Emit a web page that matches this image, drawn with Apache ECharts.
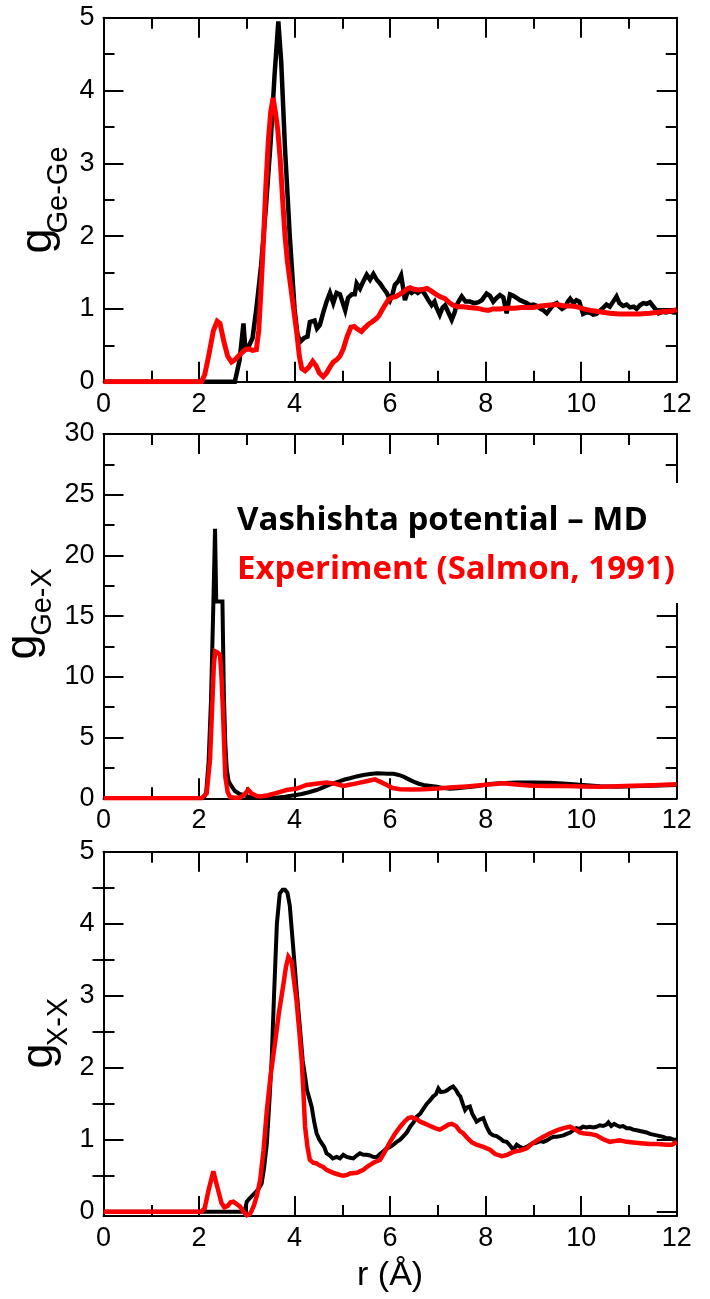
<!DOCTYPE html>
<html>
<head>
<meta charset="utf-8">
<script src="https://cdn.jsdelivr.net/npm/echarts@6/dist/echarts.min.js"></script>
<style>
  html, body { margin: 0; padding: 0; background: #fff; }
  #chart { width: 710px; height: 1299px; }
</style>
</head>
<body>
<div id="chart"></div>
<script>
// Radial distribution functions of GeX2: simulation (MD, Vashishta potential) vs experiment
// Each series is a list of [r (Å), g(r)] points.

const rTicks = [0, 2, 4, 6, 8, 10, 12];
const geGeTicks = [0, 1, 2, 3, 4, 5];
const geXTicks = [0, 5, 10, 15, 20, 25, 30];
const xxTicks = [0, 1, 2, 3, 4, 5];
const xxMinorTicks = [0.5, 1.5, 2.5, 3.5, 4.5];

const geGeMD = [[0,0],[2.75,0],[2.85,0.3],[2.93,0.8],[2.97,0.45],[3.05,0.5],[3.12,0.6],[3.2,1.0],[3.3,1.6],[3.4,2.4],[3.5,3.3],[3.58,4.2],[3.66,4.95],[3.72,4.4],[3.8,3.2],[3.9,2.0],[4.0,1.0],[4.06,0.65],[4.12,0.55],[4.2,0.6],[4.27,0.62],[4.32,0.82],[4.42,0.84],[4.47,0.73],[4.53,0.78],[4.6,0.95],[4.67,1.1],[4.74,1.22],[4.81,1.08],[4.88,1.22],[4.95,1.2],[5.0,1.1],[5.06,0.98],[5.12,1.15],[5.2,1.2],[5.26,1.2],[5.3,1.35],[5.37,1.28],[5.44,1.38],[5.51,1.47],[5.58,1.4],[5.65,1.48],[5.72,1.4],[5.79,1.35],[5.86,1.28],[5.93,1.22],[6.0,1.12],[6.05,1.2],[6.1,1.33],[6.17,1.38],[6.23,1.46],[6.27,1.3],[6.31,1.12],[6.38,1.26],[6.45,1.22],[6.52,1.25],[6.58,1.22],[6.66,1.26],[6.73,1.2],[6.8,1.12],[6.87,1.05],[6.93,1.1],[6.97,1.02],[7.04,0.92],[7.1,1.02],[7.15,1.05],[7.22,0.95],[7.29,0.85],[7.35,0.95],[7.39,1.05],[7.45,1.12],[7.5,1.17],[7.58,1.1],[7.67,1.1],[7.76,1.08],[7.84,1.09],[7.92,1.12],[8.02,1.21],[8.09,1.18],[8.16,1.1],[8.23,1.15],[8.3,1.19],[8.37,1.16],[8.44,0.94],[8.51,1.2],[8.58,1.18],[8.65,1.15],[8.72,1.12],[8.79,1.1],[8.86,1.08],[8.93,1.05],[9.0,1.06],[9.08,1.04],[9.15,1.0],[9.21,0.98],[9.28,0.94],[9.35,1.0],[9.42,1.06],[9.49,1.08],[9.53,1.04],[9.6,1.0],[9.67,1.03],[9.72,1.1],[9.77,1.14],[9.84,1.08],[9.9,1.12],[9.96,1.1],[10.04,0.93],[10.11,0.95],[10.18,0.95],[10.25,0.92],[10.32,0.93],[10.4,0.98],[10.47,1.02],[10.53,1.06],[10.6,1.03],[10.67,1.1],[10.74,1.17],[10.8,1.08],[10.88,1.04],[10.95,1.06],[11.02,1.02],[11.1,1.03],[11.16,1.0],[11.23,1.05],[11.3,1.08],[11.37,1.07],[11.44,1.09],[11.48,1.1],[11.55,1.0],[11.62,0.94],[11.7,0.96],[11.78,0.95],[11.86,0.97],[11.93,0.95],[12.0,0.95]];

const geGeExp = [[0,0],[2.05,0],[2.12,0.1],[2.2,0.35],[2.3,0.7],[2.38,0.83],[2.44,0.8],[2.52,0.55],[2.6,0.35],[2.68,0.27],[2.75,0.3],[2.82,0.35],[2.9,0.4],[2.97,0.44],[3.05,0.45],[3.12,0.43],[3.2,0.44],[3.25,0.7],[3.3,1.3],[3.35,1.95],[3.4,2.7],[3.45,3.3],[3.5,3.7],[3.55,3.9],[3.6,3.7],[3.65,3.45],[3.7,3.05],[3.75,2.5],[3.8,2.0],[3.85,1.65],[3.9,1.4],[3.95,1.15],[4.0,0.9],[4.05,0.65],[4.1,0.35],[4.15,0.18],[4.22,0.15],[4.3,0.2],[4.38,0.28],[4.45,0.22],[4.52,0.12],[4.6,0.07],[4.67,0.12],[4.74,0.2],[4.81,0.27],[4.88,0.3],[4.95,0.35],[5.02,0.45],[5.1,0.62],[5.18,0.75],[5.25,0.76],[5.32,0.72],[5.4,0.69],[5.47,0.74],[5.55,0.79],[5.62,0.82],[5.7,0.86],[5.76,0.9],[5.83,0.98],[5.9,1.06],[5.97,1.13],[6.05,1.16],[6.12,1.17],[6.2,1.2],[6.27,1.23],[6.35,1.27],[6.42,1.29],[6.5,1.27],[6.6,1.26],[6.7,1.27],[6.77,1.28],[6.85,1.25],[6.94,1.21],[7.04,1.17],[7.15,1.14],[7.25,1.08],[7.32,1.05],[7.42,1.03],[7.53,1.03],[7.65,1.02],[7.81,1.01],[7.95,0.99],[8.05,0.98],[8.15,1.0],[8.3,1.0],[8.44,1.01],[8.6,1.01],[8.75,1.02],[8.9,1.02],[9.0,1.02],[9.15,1.04],[9.3,1.05],[9.49,1.06],[9.65,1.04],[9.8,1.04],[9.9,1.03],[10.05,1.0],[10.2,0.98],[10.39,0.96],[10.6,0.94],[10.8,0.93],[10.95,0.93],[11.2,0.93],[11.44,0.94],[11.7,0.96],[11.9,0.97],[12.0,0.99]];

const geXMD = [[0,0],[2.1,0],[2.15,0.5],[2.2,3.0],[2.25,8.0],[2.3,16.0],[2.335,22.2],[2.36,16.2],[2.49,16.2],[2.52,8.5],[2.55,4.5],[2.58,2.4],[2.62,1.4],[2.68,1.0],[2.75,0.6],[2.85,0.35],[2.95,0.25],[3.05,0.12],[3.2,0.06],[3.4,0.03],[3.6,0.05],[3.8,0.12],[4.0,0.25],[4.15,0.35],[4.3,0.5],[4.46,0.68],[4.6,0.9],[4.72,1.1],[4.81,1.23],[4.95,1.42],[5.05,1.55],[5.16,1.65],[5.3,1.8],[5.44,1.92],[5.58,2.0],[5.72,2.06],[5.85,2.04],[5.95,2.02],[6.07,2.02],[6.18,1.92],[6.28,1.78],[6.38,1.58],[6.49,1.37],[6.6,1.2],[6.7,1.1],[6.85,1.02],[6.98,0.96],[7.1,0.86],[7.25,0.78],[7.4,0.82],[7.6,0.9],[7.8,1.0],[8.09,1.17],[8.3,1.25],[8.65,1.31],[9.0,1.31],[9.35,1.29],[9.7,1.2],[10.04,1.1],[10.4,1.0],[10.74,0.96],[11.1,1.0],[11.44,1.04],[11.8,1.08],[12.0,1.1]];

const geXExp = [[0,0],[2.05,0],[2.16,0.4],[2.23,3.2],[2.28,8.0],[2.31,11.0],[2.34,12.1],[2.39,12.0],[2.44,11.8],[2.47,10.0],[2.5,7.3],[2.55,1.8],[2.6,0.5],[2.65,0.1],[2.75,0.05],[2.85,0.05],[2.95,0.3],[3.03,0.7],[3.1,0.4],[3.2,0.2],[3.28,0.15],[3.45,0.25],[3.63,0.45],[3.83,0.68],[4.05,0.8],[4.25,1.1],[4.45,1.2],[4.67,1.29],[4.85,1.2],[5.02,1.02],[5.2,1.15],[5.37,1.29],[5.55,1.45],[5.68,1.56],[5.8,1.35],[5.93,1.1],[6.05,0.85],[6.21,0.74],[6.45,0.72],[6.7,0.74],[7.0,0.8],[7.25,0.88],[7.6,0.98],[7.95,1.1],[8.37,1.23],[8.7,1.12],[8.99,1.04],[9.35,1.02],[9.69,1.01],[10.05,0.98],[10.39,0.96],[10.75,1.0],[11.09,1.04],[11.5,1.08],[12.0,1.15]];

const xxMD = [[0,0],[2.9,0],[2.96,0.02],[3.0,0.14],[3.08,0.2],[3.17,0.26],[3.25,0.32],[3.31,0.39],[3.36,0.6],[3.42,0.95],[3.47,1.5],[3.52,2.1],[3.57,3.0],[3.63,4.0],[3.69,4.42],[3.75,4.47],[3.8,4.47],[3.85,4.43],[3.9,4.25],[3.97,3.68],[4.04,3.1],[4.11,2.57],[4.17,2.1],[4.22,1.88],[4.26,1.69],[4.32,1.55],[4.36,1.45],[4.41,1.25],[4.46,1.09],[4.52,1.0],[4.57,0.95],[4.62,0.9],[4.67,0.81],[4.74,0.78],[4.8,0.74],[4.88,0.76],[4.95,0.74],[5.02,0.79],[5.09,0.76],[5.16,0.75],[5.23,0.74],[5.3,0.78],[5.37,0.81],[5.44,0.79],[5.51,0.79],[5.58,0.78],[5.65,0.76],[5.72,0.76],[5.79,0.8],[5.86,0.84],[5.93,0.88],[6.0,0.9],[6.07,0.93],[6.14,0.97],[6.21,1.0],[6.28,1.05],[6.35,1.1],[6.42,1.18],[6.49,1.24],[6.56,1.32],[6.63,1.36],[6.7,1.43],[6.77,1.5],[6.84,1.55],[6.9,1.6],[6.96,1.63],[7.01,1.71],[7.06,1.66],[7.1,1.65],[7.15,1.67],[7.2,1.69],[7.26,1.72],[7.32,1.74],[7.38,1.69],[7.43,1.63],[7.47,1.6],[7.52,1.5],[7.57,1.41],[7.62,1.45],[7.67,1.46],[7.72,1.36],[7.77,1.3],[7.81,1.25],[7.88,1.28],[7.95,1.3],[8.02,1.18],[8.09,1.09],[8.16,1.06],[8.23,1.05],[8.3,1.02],[8.37,0.98],[8.44,0.97],[8.51,0.92],[8.58,0.86],[8.65,0.93],[8.72,0.9],[8.79,0.88],[8.86,0.9],[8.93,0.93],[9.0,0.95],[9.07,0.96],[9.14,0.98],[9.21,0.97],[9.28,0.99],[9.35,1.02],[9.42,1.04],[9.49,1.04],[9.56,1.05],[9.63,1.06],[9.7,1.08],[9.77,1.1],[9.83,1.13],[9.9,1.16],[9.97,1.15],[10.04,1.18],[10.11,1.17],[10.18,1.18],[10.25,1.17],[10.32,1.18],[10.39,1.2],[10.46,1.19],[10.53,1.21],[10.57,1.24],[10.63,1.19],[10.69,1.22],[10.74,1.2],[10.81,1.18],[10.88,1.19],[10.95,1.16],[11.02,1.16],[11.09,1.14],[11.16,1.13],[11.23,1.12],[11.3,1.11],[11.37,1.1],[11.44,1.08],[11.51,1.07],[11.58,1.06],[11.65,1.05],[11.72,1.04],[11.79,1.02],[11.86,1.02],[11.93,1.0],[12.0,1.0]];

const xxExp = [[0,0],[2.05,0],[2.12,0.05],[2.2,0.3],[2.3,0.56],[2.38,0.35],[2.47,0.12],[2.53,0.06],[2.6,0.08],[2.66,0.13],[2.72,0.14],[2.8,0.1],[2.86,0.07],[2.93,0.0],[3.0,-0.05],[3.07,-0.03],[3.14,0.07],[3.21,0.22],[3.28,0.44],[3.35,0.85],[3.42,1.41],[3.5,1.9],[3.59,2.34],[3.67,2.75],[3.76,3.13],[3.82,3.4],[3.87,3.54],[3.94,3.47],[3.99,3.2],[4.04,2.94],[4.1,2.5],[4.15,2.1],[4.19,1.6],[4.22,1.18],[4.27,0.9],[4.32,0.72],[4.39,0.68],[4.46,0.67],[4.53,0.64],[4.6,0.62],[4.67,0.58],[4.74,0.56],[4.85,0.53],[4.95,0.51],[5.02,0.5],[5.1,0.51],[5.16,0.53],[5.3,0.54],[5.37,0.56],[5.44,0.58],[5.51,0.62],[5.58,0.65],[5.68,0.69],[5.79,0.72],[5.86,0.8],[5.93,0.88],[6.0,0.97],[6.1,1.08],[6.21,1.18],[6.3,1.25],[6.38,1.3],[6.45,1.31],[6.55,1.29],[6.63,1.25],[6.74,1.22],[6.84,1.19],[6.94,1.16],[7.04,1.14],[7.15,1.18],[7.22,1.21],[7.29,1.22],[7.38,1.19],[7.46,1.12],[7.53,1.09],[7.62,1.02],[7.72,0.96],[7.81,0.93],[7.95,0.9],[8.09,0.86],[8.2,0.8],[8.34,0.77],[8.45,0.79],[8.58,0.83],[8.72,0.85],[8.86,0.88],[8.98,0.95],[9.1,1.0],[9.21,1.04],[9.35,1.09],[9.49,1.13],[9.63,1.16],[9.77,1.18],[9.88,1.14],[9.97,1.1],[10.04,1.09],[10.18,1.08],[10.32,1.06],[10.45,1.01],[10.6,0.97],[10.7,0.98],[10.81,0.99],[10.95,0.97],[11.09,0.96],[11.25,0.95],[11.44,0.94],[11.6,0.94],[11.79,0.93],[11.9,0.93],[12.0,0.97]];

const legendMD = 'Vashishta potential \u2013 MD';
const legendExp = 'Experiment (Salmon, 1991)';

const INK = '#000000';
const RED = '#ff0000';
const TICK_FONT = 'Liberation Sans, Arial, sans-serif';
const MAJOR = 20, MINOR = 11;

const chart = echarts.init(document.getElementById('chart'), null, { renderer: 'canvas' });

const grids = [
  { left: 103.5, top: 17.7, width: 573.2, height: 364 },
  { left: 103.5, top: 434, width: 573.2, height: 364.3 },
  { left: 103.5, top: 851.7, width: 573.2, height: 364.3 }
];

function lineStyle() { return { show: true, onZero: false, lineStyle: { color: INK, width: 2 } }; }
function tickStyle(len, extra) {
  return Object.assign({ show: true, inside: true, length: len, lineStyle: { color: INK, width: 2 } }, extra || {});
}
function labelStyle(show, extra) {
  return Object.assign({ show: show, color: INK, fontSize: 27, fontFamily: TICK_FONT, margin: 9 }, extra || {});
}

function rAxis(gridIndex, position, withLabels) {
  return {
    type: 'value', gridIndex, position,
    min: rTicks[0], max: rTicks[rTicks.length - 1], interval: rTicks[1] - rTicks[0],
    axisLine: lineStyle(), axisTick: tickStyle(MAJOR),
    minorTick: { show: true, splitNumber: 2, length: MINOR, lineStyle: { color: INK, width: 2 } },
    axisLabel: labelStyle(withLabels),
    splitLine: { show: false }, minorSplitLine: { show: false }
  };
}

function gAxis(gridIndex, position, ticks, withLabels) {
  return {
    type: 'value', gridIndex, position,
    min: ticks[0], max: ticks[ticks.length - 1], interval: ticks[1] - ticks[0],
    axisLine: lineStyle(), axisTick: tickStyle(MAJOR),
    minorTick: { show: true, splitNumber: 2, length: MINOR, lineStyle: { color: INK, width: 2 } },
    axisLabel: labelStyle(withLabels),
    splitLine: { show: false }, minorSplitLine: { show: false }
  };
}

// X-X panel: the frame starts a little below zero, so ticks are listed explicitly
function xxAxis(position, withLabels) {
  return {
    type: 'value', gridIndex: 2, position,
    min: -0.06, max: xxTicks[xxTicks.length - 1],
    axisLine: lineStyle(),
    axisTick: tickStyle(MAJOR, { customValues: xxTicks }),
    axisLabel: labelStyle(withLabels, { customValues: xxTicks }),
    splitLine: { show: false }
  };
}
function xxMinorAxis(position) {
  return {
    type: 'value', gridIndex: 2, position,
    min: -0.06, max: xxTicks[xxTicks.length - 1],
    axisLine: { show: false },
    axisTick: tickStyle(MINOR, { customValues: xxMinorTicks }),
    axisLabel: { show: false },
    splitLine: { show: false }
  };
}

const xAxes = [
  rAxis(0, 'bottom', true), rAxis(0, 'top', false),
  rAxis(1, 'bottom', true), rAxis(1, 'top', false),
  Object.assign(rAxis(2, 'bottom', true), {
    name: 'r (\u00c5)', nameLocation: 'middle', nameGap: 43,
    nameTextStyle: { color: INK, fontSize: 34, fontFamily: TICK_FONT, verticalAlign: 'top' }
  }),
  rAxis(2, 'top', false)
];

const yAxes = [
  gAxis(0, 'left', geGeTicks, true), gAxis(0, 'right', geGeTicks, false),
  gAxis(1, 'left', geXTicks, true), gAxis(1, 'right', geXTicks, false),
  xxAxis('left', true), xxAxis('right', false),
  xxMinorAxis('left'), xxMinorAxis('right')
];

function curve(name, data, xi, yi, color, width) {
  return {
    name, type: 'line', data, xAxisIndex: xi, yAxisIndex: yi,
    symbol: 'none', showSymbol: false, smooth: false, silent: true,
    lineStyle: { color, width, join: 'miter', miterLimit: 4 },
    z: color === RED ? 4 : 3
  };
}

const series = [
  curve('MD', geGeMD, 0, 0, INK, 4.5),
  curve('Experiment', geGeExp, 0, 0, RED, 5),
  curve('MD', geXMD, 2, 2, INK, 4),
  curve('Experiment', geXExp, 2, 2, RED, 4.5),
  curve('MD', xxMD, 4, 4, INK, 4),
  curve('Experiment', xxExp, 4, 4, RED, 4.5)
];

// rotated y titles: "g" with a subscript pair label
function yTitle(gx, gy, sub, sx, sy) {
  return [
    { type: 'text', x: gx, y: gy, rotation: Math.PI / 2, z: 50,
      style: { text: 'g', fontSize: 45, fontFamily: TICK_FONT, fill: INK, align: 'center', verticalAlign: 'middle' } },
    { type: 'text', x: sx, y: sy, rotation: Math.PI / 2, z: 50,
      style: { text: sub, fontSize: 29, fontFamily: TICK_FONT, fill: INK, align: 'center', verticalAlign: 'middle' } }
  ];
}

const graphic = [].concat(
  yTitle(39, 241, 'Ge-Ge', 59, 190),
  yTitle(24, 647, 'Ge-X', 43, 602),
  yTitle(40, 1056, 'X-X', 59, 1022),
  [
    { type: 'rect', z: 60, shape: { x: 230, y: 483, width: 460, height: 120 }, style: { fill: '#ffffff' } },
    { type: 'text', z: 61, x: 237, y: 521,
      style: { text: legendMD, fontSize: 33, fontWeight: 'bold', fontFamily: 'Open Sans, sans-serif', fill: INK, align: 'left', verticalAlign: 'middle' } },
    { type: 'text', z: 61, x: 237, y: 570,
      style: { text: legendExp, fontSize: 33, fontWeight: 'bold', fontFamily: 'Open Sans, sans-serif', fill: RED, align: 'left', verticalAlign: 'middle' } }
  ]
);

chart.setOption({
  animation: false,
  backgroundColor: '#ffffff',
  grid: grids,
  xAxis: xAxes,
  yAxis: yAxes,
  series,
  graphic
});
</script>
</body>
</html>
